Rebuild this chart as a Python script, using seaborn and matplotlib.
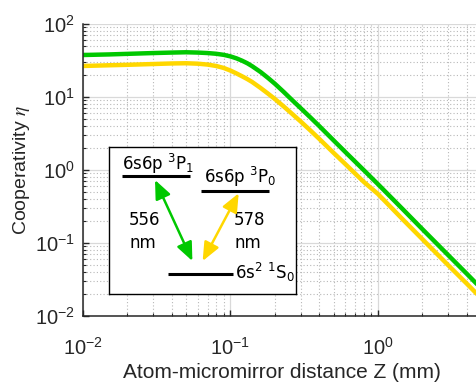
import seaborn as sns
import matplotlib.pyplot as plt
import pandas as pd

# atom-micromirror distance Z (mm) and cooperativity for the two transitions
z_mm = [0.01, 0.015, 0.02, 0.03, 0.04, 0.05, 0.06, 0.07, 0.08, 0.09, 0.10,
        0.11, 0.12, 0.13, 0.14, 0.16, 0.18, 0.20, 0.23, 0.26, 0.30, 0.35,
        0.40, 0.50, 0.60, 0.80, 1.0, 1.5, 2.0, 3.0, 4.0, 5.0]
eta_556 = [37.6, 38.3, 39.0, 40.0, 40.6, 41.0, 40.6, 40.0, 39.1, 37.8, 36.0,
           33.8, 31.4, 29.0, 26.5, 22.0, 18.2, 15.2, 11.7, 9.2, 7.0, 5.2,
           4.0, 2.55, 1.77, 1.0, 0.64, 0.28, 0.155, 0.068, 0.038, 0.024]
eta_578 = [26.6, 27.2, 27.6, 28.3, 28.8, 29.0, 28.6, 27.8, 26.6, 25.0, 23.0,
           21.0, 19.2, 17.6, 16.1, 13.3, 11.1, 9.4, 7.4, 5.95, 4.6, 3.45,
           2.67, 1.72, 1.21, 0.69, 0.47, 0.203, 0.113, 0.0495, 0.0278, 0.0176]

green = '#00C800'
yellow = '#FFD700'
dark = '#262626'

df = pd.DataFrame({'Z': z_mm * 2,
                   'eta': eta_556 + eta_578,
                   'line': ['556'] * len(z_mm) + ['578'] * len(z_mm)})

sns.set_style('ticks')
plt.rcParams['font.family'] = ['Liberation Sans', 'DejaVu Sans']
plt.rcParams['mathtext.fontset'] = 'custom'
plt.rcParams['mathtext.rm'] = 'Liberation Sans'
plt.rcParams['mathtext.it'] = 'Liberation Sans:italic'
plt.rcParams['text.color'] = dark
plt.rcParams['axes.labelcolor'] = dark

fig = plt.figure(figsize=(4.76, 3.88), dpi=100)
ax = fig.add_axes([83 / 476, 72 / 388, 398 / 476, 292 / 388])

sns.lineplot(data=df, x='Z', y='eta', hue='line', palette=[green, yellow],
             lw=3.2, ax=ax, legend=False, sort=True)

ax.set_xscale('log')
ax.set_yscale('log')
ax.set_xlim(1e-2, 5)
ax.set_ylim(1e-2, 1e2)

ax.grid(True, which='major', color='#d9d9d9', lw=0.9, ls='-')
ax.grid(True, which='minor', color='#b8b8b8', lw=0.8, ls=(0, (1, 2)))
ax.set_axisbelow(True)

for s in ['top', 'right']:
    ax.spines[s].set_visible(False)
for s in ['left', 'bottom']:
    ax.spines[s].set_color(dark)
    ax.spines[s].set_linewidth(1.1)

ax.tick_params(which='both', direction='in', colors=dark, labelsize=14.5)
ax.tick_params(which='major', length=4, width=1)
ax.tick_params(which='minor', length=2.5, width=0.8)
ax.tick_params(axis='x', pad=15)
ax.tick_params(axis='y', pad=6)

ax.set_xlabel('Atom-micromirror distance Z (mm)', fontsize=15, labelpad=3)
ax.set_ylabel(r'Cooperativity $\eta$', fontsize=14, labelpad=2,
              math_fontfamily='stix')

# inset: level scheme
ins = fig.add_axes([109.3 / 476, (388 - 294) / 388, 186.7 / 476, 147.3 / 388])
ins.set_xlim(0, 1)
ins.set_ylim(0, 1)
ins.set_xticks([])
ins.set_yticks([])
ins.set_facecolor('white')
for s in ins.spines.values():
    s.set_color('black')
    s.set_linewidth(1.0)

lev = dict(color='black', lw=2.2, solid_capstyle='butt')
ins.plot([0.070, 0.432], [0.803, 0.803], **lev)
ins.plot([0.490, 0.855], [0.701, 0.701], **lev)
ins.plot([0.313, 0.661], [0.136, 0.136], **lev)

tkw = dict(fontsize=12, family='DejaVu Sans', math_fontfamily='dejavusans',
           color='black')
ins.text(0.068, 0.842, r'6s6p $^3$P$_1$', va='baseline', ha='left', **tkw)
ins.text(0.507, 0.756, r'6s6p $^3$P$_0$', va='baseline', ha='left', **tkw)
ins.text(0.673, 0.102, r'6s$^2$ $^1$S$_0$', va='baseline', ha='left', **tkw)
ins.text(0.106, 0.424, '556\nnm', va='center', ha='left', linespacing=1.35, **tkw)
ins.text(0.669, 0.424, '578\nnm', va='center', ha='left', linespacing=1.35, **tkw)

akw = dict(arrowstyle='<|-|>,head_length=0.7,head_width=0.3', lw=1.8,
           mutation_scale=16, shrinkA=0, shrinkB=0)
ins.annotate('', xy=(0.445, 0.224), xytext=(0.245, 0.774),
             arrowprops=dict(color=green, **akw))
ins.annotate('', xy=(0.500, 0.224), xytext=(0.693, 0.684),
             arrowprops=dict(color=yellow, **akw))

fig.savefig('out.png', dpi=100)
